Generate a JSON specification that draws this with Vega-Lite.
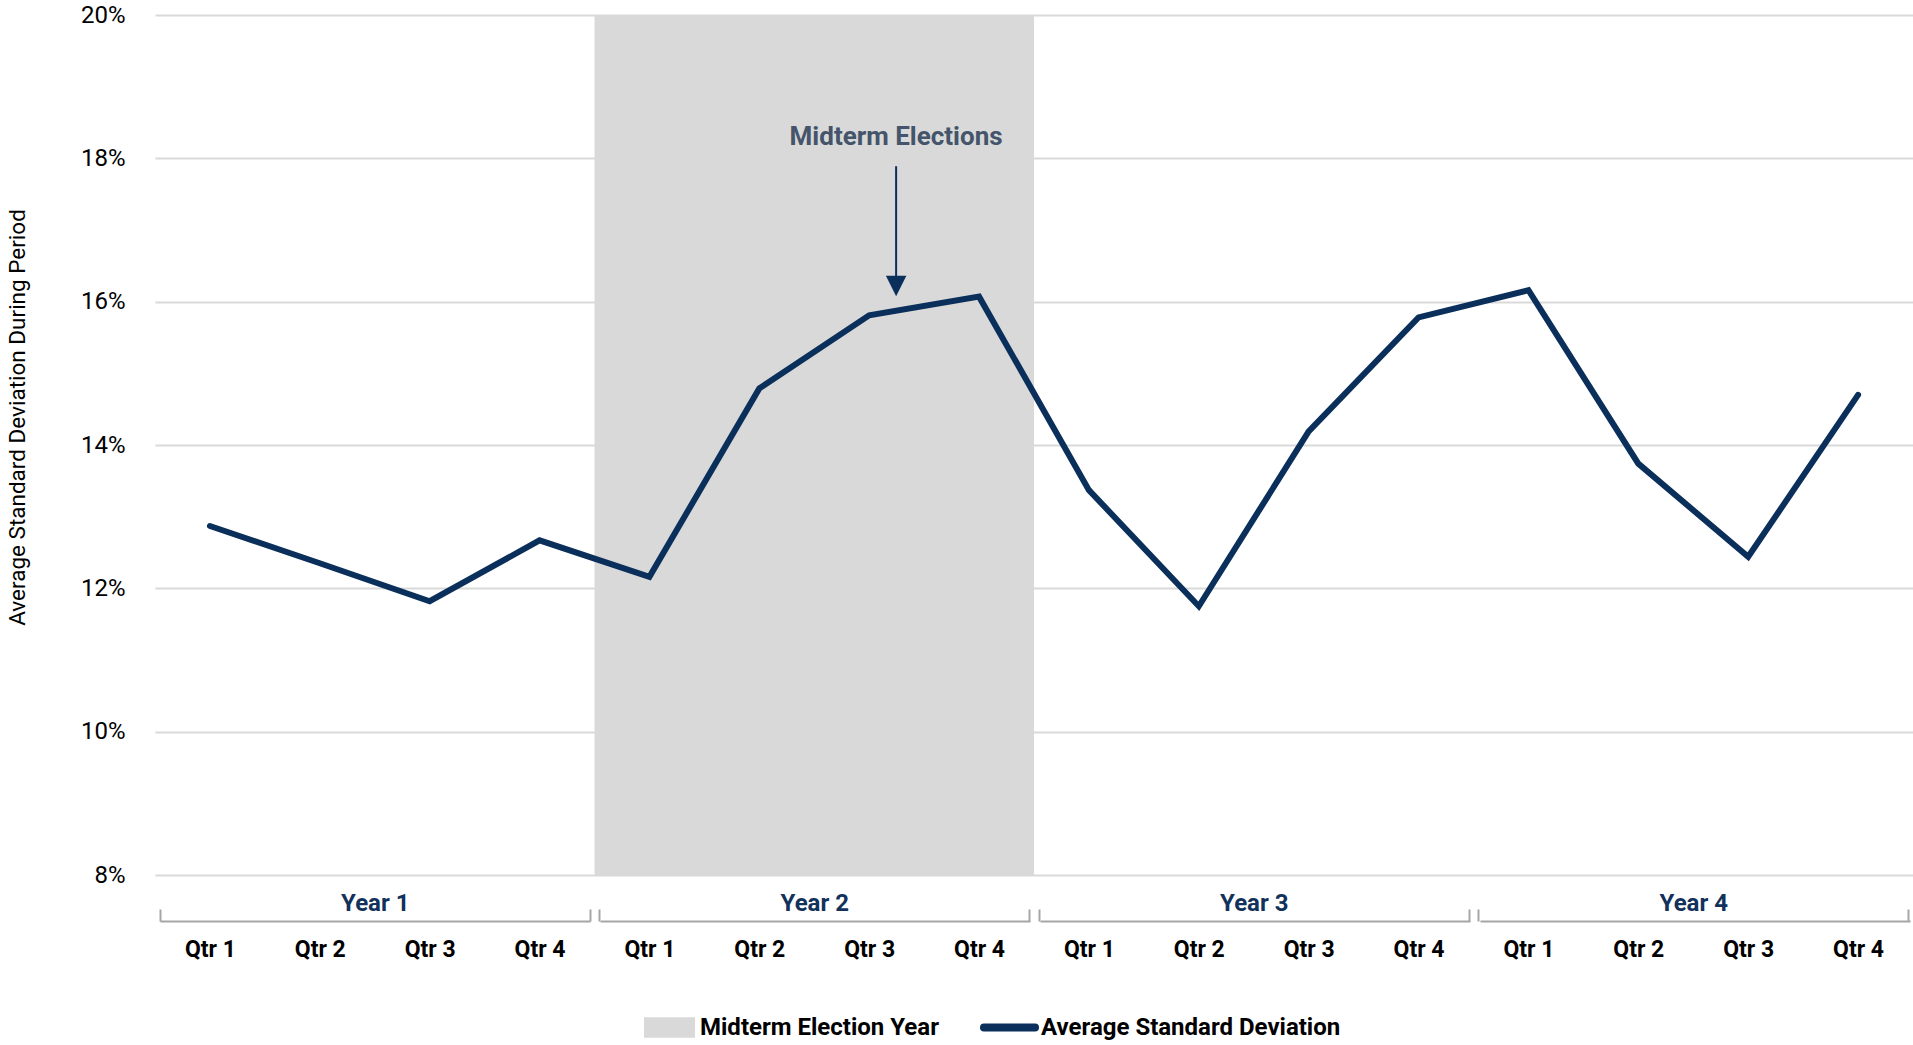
{
  "$schema": "https://vega.github.io/schema/vega-lite/v6.json",
  "width": 1758,
  "height": 860,
  "autosize": {"type": "none"},
  "padding": {"left": 155, "top": 15, "right": 0, "bottom": 170},
  "background": "white",
  "config": {
    "view": {"stroke": null},
    "font": "Roboto, Liberation Sans, sans-serif",
    "axis": {"labelFont": "Roboto, Liberation Sans, sans-serif", "titleFont": "Roboto, Liberation Sans, sans-serif"},
    "legend": {"labelFont": "Roboto, Liberation Sans, sans-serif"},
    "text": {"font": "Roboto, Liberation Sans, sans-serif"}
  },
  "datasets": {
    "series": [
      {"q": 1, "year": "Year 1", "quarter": "Qtr 1", "value": 0.1287},
      {"q": 2, "year": "Year 1", "quarter": "Qtr 2", "value": 0.1235},
      {"q": 3, "year": "Year 1", "quarter": "Qtr 3", "value": 0.1182},
      {"q": 4, "year": "Year 1", "quarter": "Qtr 4", "value": 0.1267},
      {"q": 5, "year": "Year 2", "quarter": "Qtr 1", "value": 0.1216},
      {"q": 6, "year": "Year 2", "quarter": "Qtr 2", "value": 0.1479},
      {"q": 7, "year": "Year 2", "quarter": "Qtr 3", "value": 0.1581},
      {"q": 8, "year": "Year 2", "quarter": "Qtr 4", "value": 0.1607},
      {"q": 9, "year": "Year 3", "quarter": "Qtr 1", "value": 0.1337},
      {"q": 10, "year": "Year 3", "quarter": "Qtr 2", "value": 0.1175},
      {"q": 11, "year": "Year 3", "quarter": "Qtr 3", "value": 0.1419},
      {"q": 12, "year": "Year 3", "quarter": "Qtr 4", "value": 0.1578},
      {"q": 13, "year": "Year 4", "quarter": "Qtr 1", "value": 0.1616},
      {"q": 14, "year": "Year 4", "quarter": "Qtr 2", "value": 0.1374},
      {"q": 15, "year": "Year 4", "quarter": "Qtr 3", "value": 0.1244},
      {"q": 16, "year": "Year 4", "quarter": "Qtr 4", "value": 0.1470}
    ],
    "years": [
      {"year": "Year 1", "start": 0.5, "end": 4.5, "mid": 2.5, "midterm": false},
      {"year": "Year 2", "start": 4.5, "end": 8.5, "mid": 6.5, "midterm": true},
      {"year": "Year 3", "start": 8.5, "end": 12.5, "mid": 10.5, "midterm": false},
      {"year": "Year 4", "start": 12.5, "end": 16.5, "mid": 14.5, "midterm": false}
    ]
  },
  "resolve": {"scale": {"x": "independent"}, "axis": {"x": "independent"}},
  "layer": [
    {
      "layer": [
        {
          "data": {"name": "years"},
          "transform": [{"filter": "datum.midterm"}],
          "mark": {"type": "rect"},
          "encoding": {
            "x": {
              "field": "start",
              "type": "quantitative",
              "scale": {"domain": [0.5, 16.5], "nice": false, "zero": false},
              "axis": {
                "orient": "bottom",
                "values": [1, 2, 3, 4, 5, 6, 7, 8, 9, 10, 11, 12, 13, 14, 15, 16],
                "labelExpr": "'Qtr ' + ((datum.value - 1) % 4 + 1)",
                "title": null,
                "grid": false,
                "domain": false,
                "ticks": false,
                "tickSize": 0,
                "labelPadding": 74,
                "labelBaseline": "middle",
                "labelAlign": "center",
                "labelFontSize": 23,
                "labelFontWeight": "bold",
                "labelColor": "#000000",
                "labelFlush": false,
                "labelOverlap": false
              }
            },
            "x2": {"field": "end"},
            "fill": {
              "datum": "Midterm Election Year",
              "type": "nominal",
              "scale": {"domain": ["Midterm Election Year"], "range": ["#d9d9d9"]},
              "legend": {
                "title": null,
                "orient": "none",
                "legendX": 489,
                "legendY": 987,
                "symbolType": "M-1,-0.4H1V0.4H-1Z",
                "symbolSize": 2601,
                "symbolStrokeWidth": 0,
                "symbolOpacity": 1,
                "labelFontSize": 24,
                "labelFontWeight": "bold",
                "labelColor": "#000000",
                "labelOffset": 5,
                "labelLimit": 500,
                "labelBaseline": "middle"
              }
            }
          }
        },
        {
          "data": {"name": "series"},
          "mark": {"type": "line", "strokeWidth": 6, "strokeCap": "round", "strokeJoin": "miter"},
          "encoding": {
            "x": {"field": "q", "type": "quantitative"},
            "y": {
              "field": "value",
              "type": "quantitative",
              "scale": {"domain": [0.08, 0.2], "nice": false, "zero": false},
              "axis": {
                "values": [0.08, 0.1, 0.12, 0.14, 0.16, 0.18, 0.2],
                "format": ".0%",
                "title": "Average Standard Deviation During Period",
                "domain": false,
                "ticks": false,
                "tickSize": 0,
                "labelPadding": 30,
                "labelFontSize": 24,
                "labelColor": "#000000",
                "grid": true,
                "gridColor": "#d9d9d9",
                "gridWidth": 2,
                "titleFontSize": 22.5,
                "titleFontWeight": "normal",
                "titleColor": "#000000",
                "titleX": -138,
                "titleY": 402,
                "titleAngle": -90,
                "titleAlign": "center",
                "titleBaseline": "middle"
              }
            },
            "stroke": {
              "datum": "Average Standard Deviation",
              "type": "nominal",
              "scale": {"domain": ["Average Standard Deviation"], "range": ["#0b2f5b"]},
              "legend": {
                "title": null,
                "orient": "none",
                "legendX": 825,
                "legendY": 983,
                "symbolType": "stroke",
                "symbolSize": 2601,
                "symbolStrokeWidth": 8,
                "symbolOpacity": 1,
                "labelFontSize": 24,
                "labelFontWeight": "bold",
                "labelColor": "#000000",
                "labelOffset": 2,
                "labelLimit": 500,
                "labelBaseline": "middle",
                "encode": {"symbols": {"update": {"strokeCap": {"value": "round"}}}}
              }
            }
          }
        },
        {
          "data": {"values": [{"note": "Midterm Elections"}]},
          "mark": {"type": "text", "fontSize": 26, "fontWeight": "bold", "color": "#44546a", "align": "center", "baseline": "middle"},
          "encoding": {
            "x": {"datum": 7.245, "type": "quantitative"},
            "y": {"datum": 0.183, "type": "quantitative"},
            "text": {"field": "note"}
          }
        },
        {
          "data": {"values": [{"note": "Midterm Elections"}]},
          "mark": {"type": "rule", "color": "#0b2f5b", "strokeWidth": 2},
          "encoding": {
            "x": {"datum": 7.245, "type": "quantitative"},
            "y": {"datum": 0.1789, "type": "quantitative"},
            "y2": {"datum": 0.1631}
          }
        },
        {
          "data": {"values": [{"note": "Midterm Elections"}]},
          "mark": {"type": "point", "shape": "M-1,-1L1,-1L0,1Z", "size": 420, "filled": true, "color": "#0b2f5b", "opacity": 1},
          "encoding": {
            "x": {"datum": 7.245, "type": "quantitative"},
            "y": {"datum": 0.1622, "type": "quantitative"}
          }
        }
      ]
    },
    {
      "data": {"name": "years"},
      "mark": {"type": "rule", "opacity": 0},
      "encoding": {
        "x": {
          "field": "mid",
          "type": "quantitative",
          "scale": {"domain": [0.5, 16.5], "nice": false, "zero": false},
          "axis": {
            "orient": "bottom",
            "offset": 46,
            "values": [0.545, 2.5, 4.455, 4.545, 6.5, 8.455, 8.545, 10.5, 12.455, 12.545, 14.5, 16.455],
            "labelExpr": "(datum.value - 0.5) % 4 == 2 ? 'Year ' + ((datum.value - 2.5) / 4 + 1) : ''",
            "title": null,
            "grid": false,
            "domain": true,
            "domainColor": "#a6a6a6",
            "domainWidth": 2,
            "domainDash": [430, 10],
            "domainDashOffset": 435,
            "ticks": true,
            "tickSize": -12,
            "tickWidth": 2,
            "tickColor": "#a6a6a6",
            "tickOpacity": {"condition": {"test": "(datum.value - 0.5) % 4 == 2", "value": 0}, "value": 1},
            "labelPadding": -6,
            "labelBaseline": "middle",
            "labelAlign": "center",
            "labelFontSize": 24,
            "labelFontWeight": "bold",
            "labelColor": "#12325c",
            "labelFlush": false,
            "labelOverlap": false
          }
        }
      }
    }
  ]
}
